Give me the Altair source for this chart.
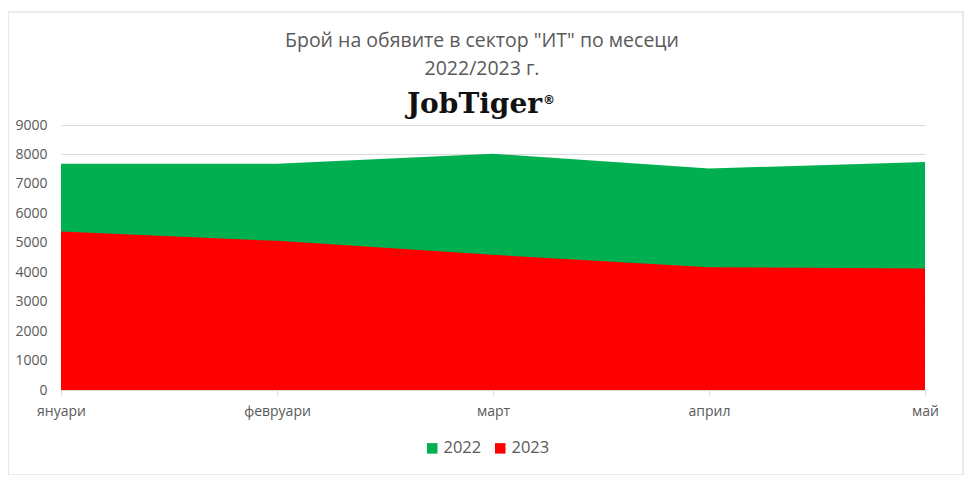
import altair as alt
import pandas as pd

months = ["януари", "февруари", "март", "април", "май"]
v2022 = [7680, 7680, 8020, 7525, 7740]
v2023 = [5380, 5065, 4590, 4170, 4125]
series = ["2022", "2023"]
colors = ["#00B050", "#FF0000"]
title_lines = ['Брой на обявите в сектор "ИТ" по месеци', "2022/2023 г."]
logo_text = "JobTiger"
logo_mark = "®"

rows = []
for s, vals in zip(series, [v2022, v2023]):
    for m, v in zip(months, vals):
        rows.append({"month": m, "year": s, "value": v})
df = pd.DataFrame(rows)

W, H = 864, 265
GRAY = "#595959"
FONT = "Open Sans"
one = pd.DataFrame({"a": [0]})

border = alt.Chart(one).mark_rect(
    fill="transparent", stroke="#d9d9d9", strokeWidth=1.2, clip=False
).encode(
    x=alt.value(-53), x2=alt.value(902), y=alt.value(-113), y2=alt.value(350)
)

t1 = alt.Chart(one).mark_text(text=title_lines[0], font=FONT, fontSize=19.5, color=GRAY,
                              align="center", baseline="middle").encode(
    x=alt.value(W / 2 - 11), y=alt.value(-84))
t2 = alt.Chart(one).mark_text(text=title_lines[1], font=FONT, fontSize=19.5, color=GRAY,
                              align="center", baseline="middle").encode(
    x=alt.value(W / 2 - 11), y=alt.value(-56))
logo = alt.Chart(one).mark_text(text=logo_text, font="DejaVu Serif", fontSize=28,
                                fontWeight="bold", color="#111111",
                                align="right", baseline="alphabetic").encode(
    x=alt.value(481), y=alt.value(-12))
reg = alt.Chart(one).mark_text(text=logo_mark, font="DejaVu Sans", fontSize=12,
                               fontWeight="bold", color="#111111",
                               align="left", baseline="alphabetic").encode(
    x=alt.value(482), y=alt.value(-21))

area = alt.Chart(df).mark_area(opacity=1).encode(
    x=alt.X("month:N", sort=months, scale=alt.Scale(padding=0),
            axis=alt.Axis(title=None, labelAngle=0, labelColor=GRAY, labelFontSize=14,
                          labelFont=FONT, labelPadding=9, tickColor="#d9d9d9", tickSize=5,
                          domainColor="#d9d9d9", grid=False)),
    y=alt.Y("value:Q", stack=None, scale=alt.Scale(domain=[0, 9000], nice=False),
            axis=alt.Axis(title=None, values=list(range(0, 9001, 1000)), format="d",
                          labelColor=GRAY, labelFontSize=14, labelFont=FONT, labelPadding=14,
                          ticks=False, domain=False, gridColor="#d9d9d9", gridWidth=1)),
    color=alt.Color("year:N", scale=alt.Scale(domain=series, range=colors),
                    legend=alt.Legend(title=None, orient="none", direction="horizontal",
                                      legendX=363, legendY=315, symbolType="square",
                                      symbolSize=110, symbolStrokeWidth=0, labelFontSize=16.5,
                                      labelFont=FONT, labelColor=GRAY, columnPadding=10,
                                      labelOffset=3, symbolOpacity=1)),
    order=alt.Order("year:N")
)

chart = alt.layer(border, area, t1, t2, logo, reg).properties(
    width=W, height=H,
    autosize=alt.AutoSizeParams(type="none"),
    padding={"left": 53, "top": 117, "right": 40, "bottom": 85}
).configure_view(stroke=None)

chart.save("out.html", embed_options={"renderer": "svg", "actions": False})
